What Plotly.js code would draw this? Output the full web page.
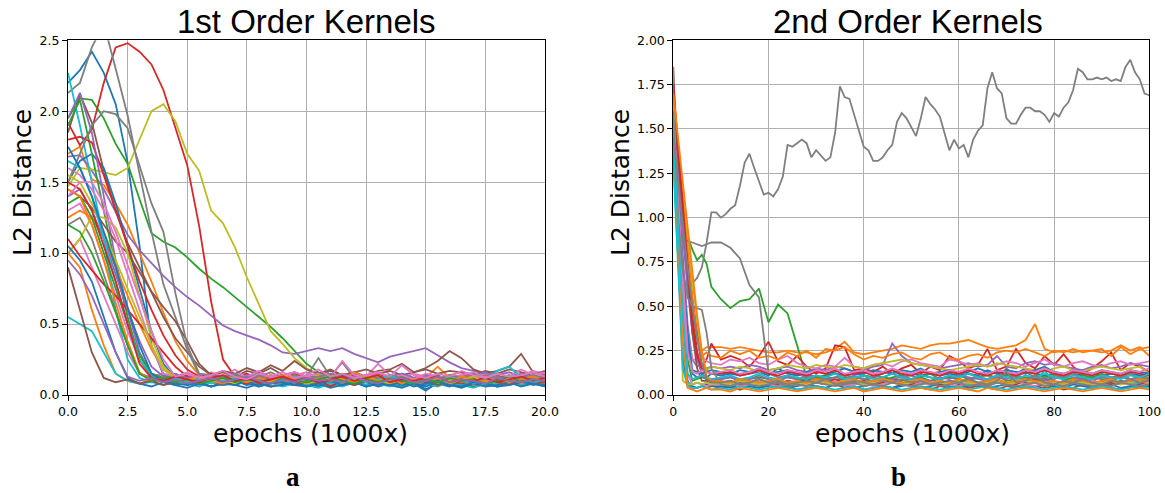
<!DOCTYPE html>
<html>
<head>
<meta charset="utf-8">
<script src="https://cdn.plot.ly/plotly-3.0.1.min.js"></script>
<style>html,body{margin:0;padding:0;background:#fff;}#chart{width:1165px;height:493px;}</style>
</head>
<body>
<div id="chart"></div>
<script>
// ---------- Left panel: 1st order kernels (epochs in 1000x, step 0.5) ----------
const LX = [0,0.5,1,1.5,2,2.5,3,3.5,4,4.5,5,5.5,6,6.5,7,7.5,8,8.5,9,9.5,10,10.5,11,11.5,12,12.5,13,13.5,14,14.5,15,15.5,16,16.5,17,17.5,18,18.5,19,19.5,20];

const L_blue = [2.20,2.29,2.42,2.27,2.05,1.64,1.05,0.35,0.14,0.10, 0.08,0.11,0.09,0.07,0.10,0.08,0.06,0.09,0.07,0.10, 0.08,0.06,0.09,0.07,0.08,0.10,0.07,0.09,0.06,0.08, 0.03,0.09,0.07,0.08,0.06,0.09,0.07,0.08,0.10,0.07, 0.09];
const L_orange = [1.70,1.75,1.52,1.48,1.35,1.20,1.00,0.80,0.58,0.38, 0.24,0.14,0.11,0.13,0.10,0.12,0.15,0.11,0.13,0.10, 0.12,0.14,0.11,0.13,0.10,0.12,0.15,0.11,0.13,0.10, 0.12,0.20,0.12,0.14,0.11,0.13,0.10,0.12,0.14,0.11, 0.13];
const L_green = [1.95,2.09,2.08,1.95,1.77,1.63,1.38,1.14,1.08,1.04, 0.97,0.89,0.82,0.76,0.69,0.62,0.55,0.48,0.40,0.31, 0.22,0.16,0.13,0.15,0.12,0.14,0.11,0.13,0.15,0.12, 0.14,0.11,0.13,0.12,0.14,0.16,0.12,0.13,0.11,0.14, 0.12];
const L_red = [1.92,1.76,1.87,2.20,2.45,2.48,2.42,2.33,2.15,1.88, 1.62,1.19,0.66,0.25,0.13,0.15,0.11,0.14,0.12,0.10, 0.13,0.12,0.09,0.11,0.13,0.10,0.12,0.14,0.11,0.09, 0.12,0.10,0.13,0.11,0.09,0.12,0.14,0.10,0.12,0.11, 0.13];
const L_purple = [1.68,1.69,1.58,1.45,1.29,1.13,1.02,0.93,0.84,0.76, 0.69,0.63,0.56,0.49,0.45,0.42,0.39,0.35,0.30,0.29, 0.31,0.33,0.31,0.33,0.29,0.26,0.23,0.27,0.29,0.31, 0.33,0.28,0.23,0.19,0.17,0.15,0.14,0.16,0.13,0.15, 0.14];
const L_brown = [1.85,2.12,1.92,1.58,1.30,1.07,0.90,0.72,0.55,0.40, 0.30,0.20,0.14,0.16,0.13,0.17,0.15,0.19,0.14,0.16, 0.13,0.15,0.18,0.14,0.16,0.13,0.17,0.18,0.22,0.16, 0.19,0.24,0.31,0.26,0.18,0.15,0.17,0.20,0.29,0.16, 0.14];
const L_pink = [1.30,1.35,1.20,0.95,0.70,0.45,0.25,0.13,0.15,0.12, 0.14,0.11,0.16,0.13,0.18,0.12,0.15,0.13,0.11,0.14, 0.16,0.12,0.14,0.11,0.15,0.13,0.22,0.14,0.12,0.15, 0.13,0.11,0.14,0.16,0.12,0.15,0.13,0.11,0.14,0.17, 0.15];
const L_grey = [2.13,2.20,2.45,2.62,2.30,1.97,1.56,1.15,0.78,0.55, 0.32,0.14,0.12,0.14,0.11,0.13,0.15,0.12,0.14,0.11, 0.13,0.26,0.13,0.23,0.12,0.14,0.12,0.10,0.13,0.11, 0.14,0.12,0.10,0.13,0.11,0.14,0.12,0.13,0.11,0.10, 0.12];
const L_olive = [1.47,1.60,1.59,1.57,1.55,1.60,1.80,2.00,2.05,1.93, 1.70,1.58,1.30,1.21,1.04,0.83,0.64,0.45,0.36,0.26, 0.19,0.13,0.10,0.12,0.09,0.11,0.08,0.10,0.12,0.09, 0.11,0.08,0.10,0.09,0.11,0.08,0.10,0.12,0.09,0.10, 0.08];
const L_cyan = [2.27,1.90,1.50,1.10,0.60,0.25,0.12,0.09,0.11,0.08, 0.10,0.07,0.09,0.11,0.08,0.10,0.07,0.09,0.08,0.10, 0.07,0.09,0.06,0.08,0.10,0.07,0.09,0.08,0.06,0.09, 0.07,0.10,0.08,0.06,0.09,0.07,0.08,0.10,0.07,0.09, 0.08];
const L_blue2 = [1.50,1.65,1.70,1.60,1.35,1.05,0.75,0.45,0.22,0.12, 0.07,0.09,0.06,0.08,0.10,0.07,0.09,0.06,0.08,0.07, 0.09,0.06,0.08,0.10,0.07,0.09,0.06,0.08,0.07,0.09, 0.04,0.08,0.06,0.09,0.07,0.08,0.06,0.09,0.07,0.08, 0.06];
const L_orange2 = [1.00,0.90,0.60,0.35,0.15,0.10,0.08,0.11,0.09,0.07, 0.10,0.08,0.11,0.09,0.07,0.10,0.08,0.06,0.09,0.11, 0.08,0.10,0.07,0.09,0.08,0.10,0.12,0.08,0.09,0.07, 0.10,0.08,0.11,0.09,0.07,0.08,0.10,0.09,0.07,0.10, 0.08];
const L_green2 = [1.90,2.08,1.70,1.30,0.90,0.55,0.25,0.13,0.10,0.12, 0.09,0.11,0.13,0.10,0.12,0.09,0.11,0.10,0.12,0.14, 0.10,0.12,0.09,0.11,0.13,0.10,0.12,0.09,0.11,0.10, 0.12,0.14,0.10,0.12,0.09,0.11,0.13,0.10,0.12,0.09, 0.11];
const L_red2 = [1.80,1.82,1.78,1.55,1.30,1.05,0.80,0.60,0.42,0.28, 0.18,0.13,0.15,0.11,0.14,0.12,0.10,0.13,0.11,0.15, 0.12,0.10,0.13,0.11,0.14,0.12,0.16,0.10,0.13,0.11, 0.14,0.12,0.10,0.13,0.15,0.11,0.12,0.14,0.10,0.13, 0.11];
const L_purple2 = [1.95,2.13,1.85,1.40,0.95,0.60,0.30,0.15,0.12,0.10, 0.13,0.11,0.09,0.12,0.10,0.14,0.11,0.09,0.12,0.10, 0.13,0.11,0.12,0.09,0.11,0.13,0.10,0.12,0.09,0.11, 0.12,0.10,0.13,0.11,0.09,0.12,0.10,0.11,0.13,0.10, 0.12];
const L_brown2 = [1.45,1.40,1.32,1.20,1.08,1.00,0.86,0.73,0.62,0.52, 0.38,0.22,0.14,0.17,0.15,0.19,0.16,0.21,0.17,0.24, 0.18,0.15,0.17,0.14,0.16,0.18,0.15,0.17,0.14,0.16, 0.18,0.15,0.17,0.16,0.14,0.17,0.15,0.18,0.16,0.14, 0.17];
const L_pink2 = [1.00,1.10,0.90,0.70,0.50,0.30,0.15,0.12,0.10,0.13, 0.11,0.09,0.12,0.10,0.08,0.11,0.13,0.10,0.12,0.09, 0.11,0.13,0.10,0.12,0.09,0.11,0.10,0.12,0.14,0.11, 0.09,0.12,0.10,0.11,0.13,0.10,0.12,0.09,0.11,0.10, 0.12];
const L_grey2 = [1.20,1.25,1.10,0.85,0.60,0.35,0.15,0.12,0.10,0.13, 0.11,0.14,0.10,0.12,0.15,0.11,0.13,0.10,0.12,0.14, 0.11,0.13,0.10,0.12,0.15,0.11,0.13,0.10,0.12,0.11, 0.13,0.10,0.12,0.14,0.11,0.13,0.10,0.12,0.11,0.13, 0.10];
const L_olive2 = [1.00,1.10,1.26,1.25,1.18,1.00,0.70,0.40,0.20,0.12, 0.10,0.12,0.09,0.11,0.13,0.10,0.12,0.09,0.11,0.10, 0.12,0.14,0.10,0.12,0.09,0.11,0.13,0.10,0.12,0.11, 0.09,0.12,0.10,0.13,0.11,0.09,0.12,0.10,0.11,0.13, 0.10];
const L_cyan2 = [0.55,0.50,0.45,0.30,0.15,0.10,0.08,0.09,0.07,0.10, 0.08,0.06,0.09,0.07,0.08,0.10,0.07,0.09,0.06,0.08, 0.07,0.05,0.08,0.06,0.09,0.07,0.08,0.06,0.09,0.07, 0.08,0.06,0.09,0.07,0.05,0.08,0.06,0.08,0.07,0.09, 0.07];
const L_blue3 = [1.05,0.95,0.80,0.55,0.30,0.12,0.08,0.06,0.09,0.07, 0.05,0.08,0.06,0.09,0.07,0.05,0.08,0.06,0.07,0.09, 0.06,0.08,0.05,0.07,0.09,0.06,0.08,0.07,0.05,0.08, 0.06,0.09,0.07,0.05,0.08,0.06,0.07,0.09,0.06,0.08, 0.07];
const L_orange3 = [1.25,1.30,1.25,1.10,0.90,0.70,0.50,0.32,0.18,0.12, 0.09,0.11,0.13,0.10,0.12,0.09,0.11,0.14,0.10,0.12, 0.09,0.11,0.13,0.10,0.16,0.12,0.09,0.11,0.10,0.12, 0.14,0.10,0.12,0.09,0.11,0.13,0.10,0.12,0.11,0.09, 0.12];
const L_green3 = [1.35,1.40,1.25,1.00,0.75,0.50,0.28,0.15,0.12,0.14, 0.11,0.13,0.10,0.12,0.14,0.11,0.09,0.12,0.10,0.13, 0.11,0.09,0.12,0.14,0.10,0.12,0.11,0.09,0.13,0.11, 0.10,0.12,0.14,0.11,0.09,0.12,0.10,0.13,0.11,0.12, 0.10];
const L_red3 = [1.10,0.98,0.88,0.78,0.70,0.60,0.50,0.40,0.30,0.20, 0.13,0.11,0.09,0.12,0.10,0.08,0.11,0.09,0.12,0.10, 0.08,0.11,0.06,0.10,0.12,0.09,0.11,0.08,0.10,0.12, 0.09,0.11,0.08,0.10,0.12,0.09,0.11,0.10,0.08,0.11, 0.09];
const L_purple3 = [1.40,1.45,1.30,1.10,0.85,0.60,0.38,0.20,0.13,0.15, 0.12,0.14,0.11,0.13,0.15,0.12,0.14,0.10,0.13,0.11, 0.14,0.12,0.15,0.13,0.11,0.14,0.12,0.13,0.15,0.12, 0.14,0.11,0.13,0.12,0.14,0.16,0.12,0.13,0.15,0.12, 0.14];
const L_brown3 = [0.90,0.60,0.30,0.12,0.09,0.11,0.08,0.10,0.07,0.09, 0.11,0.08,0.10,0.07,0.09,0.12,0.08,0.10,0.09,0.07, 0.10,0.08,0.11,0.09,0.07,0.10,0.08,0.09,0.11,0.08, 0.10,0.07,0.09,0.08,0.10,0.12,0.09,0.07,0.10,0.08, 0.09];
const L_pink3 = [1.60,1.55,1.45,1.30,1.10,0.85,0.60,0.35,0.15,0.13, 0.16,0.12,0.14,0.11,0.15,0.13,0.17,0.12,0.14,0.16, 0.13,0.15,0.12,0.24,0.14,0.13,0.16,0.12,0.14,0.11, 0.15,0.13,0.12,0.14,0.16,0.12,0.15,0.13,0.18,0.14, 0.16];
const L_grey3 = [1.50,1.70,1.90,2.00,1.98,1.88,1.62,1.35,1.15,0.72, 0.35,0.15,0.14,0.12,0.15,0.11,0.13,0.16,0.12,0.14, 0.11,0.13,0.15,0.12,0.10,0.13,0.11,0.14,0.12,0.10, 0.13,0.11,0.14,0.12,0.15,0.11,0.13,0.10,0.12,0.14, 0.11];
const L_cyan3 = [1.65,1.60,1.40,1.10,0.80,0.50,0.25,0.14,0.10,0.12, 0.09,0.11,0.08,0.10,0.12,0.09,0.11,0.08,0.10,0.13, 0.09,0.11,0.08,0.10,0.12,0.09,0.11,0.14,0.10,0.08, 0.11,0.09,0.12,0.10,0.08,0.11,0.17,0.20,0.12,0.09, 0.11];
const L_olive3 = [1.55,1.50,1.35,1.15,0.95,0.75,0.55,0.35,0.18,0.12, 0.10,0.13,0.09,0.11,0.08,0.12,0.10,0.09,0.13,0.11, 0.08,0.10,0.12,0.09,0.11,0.14,0.10,0.08,0.11,0.09, 0.12,0.10,0.08,0.11,0.13,0.09,0.10,0.12,0.08,0.11, 0.10];
const L_blue4 = [1.75,1.60,1.40,1.15,0.90,0.62,0.35,0.15,0.10,0.08, 0.07,0.09,0.06,0.08,0.07,0.10,0.06,0.08,0.09,0.07, 0.06,0.08,0.10,0.07,0.09,0.06,0.08,0.07,0.09,0.06, 0.08,0.10,0.07,0.06,0.09,0.08,0.06,0.07,0.09,0.08, 0.06];
const L_green4 = [1.20,1.15,1.00,0.80,0.58,0.35,0.15,0.10,0.12,0.09, 0.11,0.08,0.10,0.12,0.09,0.11,0.10,0.08,0.12,0.10, 0.09,0.11,0.13,0.10,0.08,0.11,0.09,0.12,0.10,0.08, 0.11,0.09,0.12,0.10,0.11,0.08,0.10,0.13,0.09,0.11, 0.10];
const L_red4 = [1.50,1.45,1.30,1.05,0.80,0.50,0.22,0.12,0.10,0.13, 0.11,0.09,0.12,0.14,0.10,0.12,0.09,0.11,0.13,0.10, 0.12,0.09,0.11,0.13,0.10,0.12,0.14,0.09,0.11,0.10, 0.12,0.13,0.09,0.11,0.10,0.12,0.09,0.11,0.13,0.10, 0.12];
const L_pink4 = [1.40,1.50,1.50,1.35,1.15,0.92,0.68,0.45,0.25,0.13, 0.15,0.12,0.14,0.17,0.13,0.11,0.15,0.13,0.16,0.12, 0.14,0.18,0.13,0.15,0.12,0.14,0.16,0.13,0.21,0.14, 0.12,0.15,0.13,0.17,0.14,0.12,0.15,0.13,0.14,0.16, 0.13];
const L_orange4 = [1.45,1.40,1.20,0.95,0.65,0.38,0.16,0.10,0.12,0.09, 0.11,0.13,0.10,0.08,0.11,0.09,0.12,0.10,0.14,0.11, 0.09,0.12,0.10,0.11,0.09,0.13,0.10,0.12,0.08,0.11, 0.10,0.12,0.09,0.13,0.11,0.10,0.12,0.09,0.11,0.13, 0.10];
const L_purple4 = [0.95,0.85,0.70,0.50,0.30,0.13,0.10,0.12,0.09,0.11, 0.08,0.10,0.12,0.09,0.11,0.13,0.10,0.08,0.11,0.09, 0.12,0.10,0.11,0.09,0.13,0.10,0.08,0.11,0.12,0.09, 0.10,0.13,0.09,0.11,0.10,0.08,0.12,0.10,0.09,0.11, 0.10];

// ---------- Right panel: 2nd order kernels ----------
const RX = [0,1,2,3,4,5,6,7,8,10,12,14,16,18,20,22,24,26,28,30,32,34,36,38,40,42,44,46,48,50,52,54,56,58,60,62,64,66,68,70,72,74,76,78,80,82,84,86,88,90,92,94,96,98,100];
const RX_FULL = [0,1,2,3,4,5,6,7,8,9,10,11,12,13,14,15,16,17,18,19,20,21,22,23,24,25,26,27,28,29,30,31,32,33,34,35,36,37,38,39,40,41,42,43,44,45,46,47,48,49,50,51,52,53,54,55,56,57,58,59,60,61,62,63,64,65,66,67,68,69,70,71,72,73,74,75,76,77,78,79,80,81,82,83,84,85,86,87,88,89,90,91,92,93,94,95,96,97,98,99,100];

const R_greyTall = [1.50,1.05,0.66,0.61,0.63,0.66,0.72,0.86,1.03,1.03,
 1.00,1.02,1.05,1.07,1.18,1.31,1.36,1.28,1.20,1.13,
 1.14,1.12,1.16,1.23,1.41,1.40,1.42,1.44,1.42,1.34,
 1.38,1.35,1.32,1.34,1.48,1.74,1.68,1.67,1.58,1.50,
 1.40,1.38,1.32,1.32,1.34,1.38,1.41,1.54,1.59,1.56,
 1.51,1.46,1.56,1.68,1.64,1.61,1.57,1.48,1.38,1.44,
 1.39,1.41,1.34,1.44,1.49,1.52,1.73,1.82,1.73,1.70,
 1.56,1.53,1.53,1.58,1.62,1.62,1.60,1.60,1.58,1.54,
 1.59,1.57,1.62,1.65,1.72,1.84,1.82,1.78,1.78,1.79,
 1.78,1.79,1.77,1.78,1.77,1.85,1.89,1.82,1.78,1.70,
 1.69];
const R_orangeA = [1.60,1.35,1.05,0.80,0.55,0.35,0.25,0.27,0.27, 0.27,0.26,0.27,0.26,0.25,0.24,0.24,0.25,0.24,0.24, 0.23,0.24,0.26,0.30,0.24,0.23,0.24,0.25,0.26,0.28, 0.27,0.26,0.28,0.29,0.29,0.30,0.31,0.29,0.27,0.26, 0.27,0.28,0.31,0.40,0.26,0.24,0.25,0.24,0.25,0.25, 0.24,0.25,0.28,0.25,0.27,0.22];
const R_orangeB = [1.60,1.35,1.10,0.82,0.55,0.32,0.22,0.24,0.22, 0.21,0.25,0.23,0.25,0.21,0.22,0.20,0.24,0.22,0.25, 0.21,0.26,0.25,0.27,0.23,0.20,0.22,0.21,0.23,0.24, 0.21,0.20,0.23,0.24,0.21,0.20,0.22,0.23,0.21,0.24, 0.25,0.24,0.26,0.24,0.22,0.25,0.24,0.26,0.24,0.25, 0.26,0.22,0.27,0.23,0.26,0.27];
const R_red = [1.60,1.35,1.05,0.80,0.54,0.35,0.16,0.20,0.29, 0.20,0.22,0.20,0.16,0.22,0.30,0.19,0.17,0.22,0.16, 0.12,0.15,0.28,0.27,0.14,0.15,0.13,0.16,0.12,0.15, 0.17,0.12,0.16,0.14,0.22,0.19,0.15,0.17,0.26,0.14, 0.16,0.26,0.18,0.15,0.22,0.17,0.23,0.16,0.12,0.15, 0.19,0.24,0.14,0.18,0.16,0.13];
const R_green = [1.70,1.10,0.97,0.89,0.82,0.76,0.79,0.74,0.61, 0.54,0.49,0.53,0.54,0.60,0.41,0.51,0.46,0.28,0.10, 0.09,0.11,0.08,0.10,0.09,0.11,0.10,0.08,0.10,0.11, 0.09,0.10,0.12,0.09,0.10,0.11,0.09,0.10,0.12,0.09, 0.11,0.10,0.09,0.11,0.10,0.12,0.10,0.09,0.11,0.10, 0.12,0.10,0.11,0.09,0.10,0.11];
const R_grey2 = [1.40,1.00,0.86,0.87,0.86,0.85,0.84,0.85,0.86, 0.86,0.83,0.77,0.62,0.55,0.12,0.10,0.11,0.09,0.10, 0.11,0.09,0.10,0.11,0.10,0.09,0.11,0.10,0.12,0.10, 0.09,0.11,0.10,0.09,0.11,0.10,0.12,0.10,0.11,0.09, 0.15,0.10,0.13,0.10,0.09,0.11,0.10,0.12,0.10,0.09, 0.11,0.10,0.10,0.12,0.09,0.10];
const R_grey3 = [1.60,1.00,0.70,0.55,0.50,0.49,0.48,0.35,0.15, 0.06,0.05,0.07,0.06,0.05,0.06,0.07,0.05,0.06,0.05, 0.07,0.06,0.05,0.06,0.07,0.05,0.06,0.05,0.07,0.06, 0.05,0.06,0.07,0.05,0.06,0.07,0.05,0.06,0.05,0.07, 0.06,0.05,0.06,0.07,0.05,0.06,0.05,0.07,0.06,0.05, 0.06,0.05,0.07,0.06,0.05,0.06];
const R_purple = [1.55,1.15,0.75,0.40,0.20,0.16,0.17,0.15,0.16, 0.15,0.16,0.15,0.17,0.16,0.14,0.15,0.16,0.14,0.13, 0.15,0.14,0.16,0.15,0.13,0.14,0.16,0.17,0.29,0.22, 0.18,0.17,0.16,0.15,0.16,0.17,0.18,0.16,0.17,0.22, 0.16,0.15,0.18,0.19,0.17,0.18,0.16,0.15,0.14,0.16, 0.17,0.15,0.16,0.18,0.17,0.16];
const R_pink = [1.50,1.10,0.70,0.35,0.20,0.20,0.22,0.19,0.18, 0.17,0.20,0.19,0.21,0.18,0.17,0.20,0.22,0.18,0.16, 0.15,0.17,0.16,0.21,0.16,0.15,0.17,0.18,0.16,0.19, 0.20,0.18,0.17,0.16,0.20,0.19,0.17,0.18,0.16,0.17, 0.19,0.18,0.16,0.18,0.20,0.17,0.16,0.18,0.19,0.17, 0.16,0.18,0.19,0.17,0.18,0.19];
const R_olive = [1.65,1.40,1.12,0.88,0.64,0.42,0.22,0.14,0.16, 0.15,0.14,0.16,0.15,0.13,0.14,0.15,0.17,0.16,0.15, 0.17,0.16,0.15,0.17,0.16,0.15,0.17,0.18,0.19,0.20, 0.18,0.17,0.16,0.15,0.14,0.15,0.16,0.17,0.16,0.18, 0.17,0.16,0.15,0.14,0.13,0.15,0.16,0.14,0.13,0.15, 0.16,0.15,0.14,0.15,0.16,0.12];
const R_blue = [1.45,1.05,0.65,0.30,0.12,0.10,0.11,0.10,0.12, 0.11,0.12,0.11,0.12,0.13,0.11,0.15,0.12,0.11,0.12, 0.10,0.11,0.12,0.11,0.12,0.11,0.10,0.12,0.14,0.11, 0.12,0.11,0.12,0.11,0.12,0.11,0.12,0.11,0.14,0.12, 0.11,0.12,0.15,0.12,0.11,0.12,0.11,0.12,0.11,0.12, 0.11,0.12,0.11,0.12,0.11,0.12];
const R_cyan = [1.40,0.85,0.30,0.07,0.06,0.07,0.06,0.07,0.08, 0.07,0.06,0.08,0.07,0.06,0.07,0.08,0.06,0.07,0.06, 0.08,0.07,0.06,0.07,0.08,0.07,0.06,0.08,0.07,0.06, 0.07,0.08,0.07,0.06,0.07,0.08,0.06,0.07,0.08,0.07, 0.06,0.07,0.08,0.07,0.14,0.07,0.06,0.07,0.08,0.07, 0.06,0.07,0.08,0.07,0.06,0.07];
const R_green2 = [1.60,1.15,0.65,0.20,0.08,0.09,0.10,0.09,0.08, 0.09,0.10,0.08,0.09,0.10,0.09,0.08,0.10,0.09,0.08, 0.10,0.09,0.08,0.09,0.10,0.09,0.08,0.10,0.09,0.08, 0.09,0.10,0.08,0.09,0.10,0.09,0.08,0.10,0.09,0.11, 0.08,0.09,0.10,0.09,0.08,0.10,0.09,0.08,0.09,0.10, 0.09,0.08,0.10,0.09,0.08,0.09];
const R_brown = [1.85,1.10,0.45,0.08,0.04,0.04,0.05,0.04,0.05, 0.04,0.05,0.03,0.05,0.04,0.06,0.04,0.05,0.03,0.04, 0.05,0.04,0.06,0.04,0.05,0.03,0.04,0.05,0.04,0.06, 0.05,0.04,0.03,0.05,0.04,0.06,0.04,0.05,0.04,0.03, 0.05,0.04,0.06,0.05,0.04,0.05,0.03,0.04,0.06,0.04, 0.05,0.04,0.03,0.05,0.04,0.05];
const R_red2 = [1.60,1.30,1.00,0.70,0.45,0.25,0.12,0.09,0.08, 0.07,0.08,0.06,0.07,0.09,0.07,0.06,0.08,0.07,0.06, 0.08,0.07,0.09,0.06,0.07,0.08,0.06,0.07,0.09,0.07, 0.06,0.08,0.07,0.06,0.08,0.07,0.09,0.07,0.06,0.08, 0.07,0.06,0.08,0.07,0.09,0.06,0.07,0.08,0.07,0.06, 0.08,0.07,0.06,0.08,0.07,0.06];
const R_orange3 = [1.50,0.90,0.30,0.04,0.03,0.02,0.03,0.04,0.03, 0.03,0.02,0.04,0.03,0.02,0.03,0.04,0.03,0.02,0.03, 0.04,0.03,0.02,0.03,0.04,0.02,0.03,0.04,0.03,0.02, 0.03,0.04,0.03,0.02,0.03,0.04,0.03,0.02,0.04,0.03, 0.02,0.03,0.04,0.03,0.02,0.03,0.04,0.03,0.02,0.03, 0.04,0.03,0.02,0.03,0.04,0.03];
const R_pink2 = [1.55,1.05,0.55,0.12,0.06,0.07,0.06,0.05,0.06, 0.06,0.07,0.05,0.06,0.08,0.06,0.05,0.07,0.06,0.05, 0.07,0.06,0.08,0.05,0.06,0.07,0.05,0.06,0.08,0.06, 0.05,0.07,0.06,0.08,0.06,0.05,0.07,0.06,0.05,0.07, 0.06,0.08,0.06,0.05,0.07,0.06,0.05,0.07,0.06,0.08, 0.06,0.05,0.07,0.06,0.05,0.07];
const R_blue2 = [1.35,0.75,0.20,0.05,0.05,0.04,0.05,0.06,0.05, 0.05,0.04,0.06,0.05,0.04,0.05,0.06,0.04,0.05,0.06, 0.05,0.04,0.06,0.05,0.04,0.05,0.06,0.05,0.04,0.05, 0.06,0.04,0.05,0.06,0.05,0.04,0.05,0.06,0.04,0.05, 0.06,0.05,0.04,0.05,0.06,0.05,0.04,0.06,0.05,0.04, 0.05,0.06,0.04,0.05,0.06,0.05];
const R_olive2 = [1.70,0.90,0.08,0.06,0.06,0.07,0.06,0.07,0.06, 0.07,0.06,0.08,0.07,0.06,0.07,0.08,0.06,0.07,0.06, 0.08,0.07,0.06,0.07,0.08,0.06,0.07,0.08,0.07,0.06, 0.07,0.08,0.06,0.07,0.06,0.08,0.07,0.06,0.07,0.08, 0.06,0.07,0.08,0.07,0.06,0.07,0.06,0.08,0.07,0.06, 0.07,0.08,0.06,0.07,0.08,0.07];
const R_purple2 = [1.55,1.25,0.90,0.60,0.35,0.20,0.12,0.09,0.09, 0.09,0.10,0.08,0.09,0.11,0.09,0.08,0.10,0.09,0.11, 0.09,0.08,0.10,0.09,0.11,0.09,0.10,0.08,0.09,0.10, 0.11,0.09,0.08,0.10,0.09,0.11,0.10,0.09,0.08,0.10, 0.09,0.11,0.09,0.10,0.08,0.09,0.11,0.10,0.09,0.08, 0.10,0.09,0.11,0.09,0.10,0.09];
const R_cyan2 = [1.30,0.70,0.15,0.05,0.04,0.04,0.05,0.04,0.03, 0.04,0.03,0.05,0.04,0.03,0.04,0.05,0.04,0.03,0.04, 0.05,0.04,0.03,0.04,0.05,0.03,0.04,0.05,0.04,0.03, 0.04,0.05,0.04,0.03,0.04,0.05,0.03,0.04,0.05,0.04, 0.03,0.04,0.05,0.04,0.03,0.04,0.05,0.04,0.03,0.04, 0.05,0.04,0.03,0.04,0.05,0.04];
const R_grey4 = [1.45,1.20,0.95,0.72,0.50,0.32,0.18,0.09,0.07, 0.07,0.08,0.06,0.07,0.09,0.07,0.08,0.06,0.07,0.08, 0.07,0.09,0.06,0.07,0.08,0.07,0.06,0.08,0.07,0.09, 0.07,0.08,0.06,0.07,0.08,0.07,0.09,0.07,0.06,0.08, 0.13,0.07,0.08,0.11,0.07,0.06,0.08,0.07,0.09,0.07, 0.06,0.08,0.07,0.09,0.07,0.08];
const R_orange4 = [1.70,1.45,1.20,0.95,0.70,0.45,0.25,0.10,0.08, 0.08,0.07,0.09,0.08,0.07,0.08,0.09,0.07,0.08,0.07, 0.09,0.08,0.07,0.08,0.09,0.07,0.08,0.09,0.08,0.07, 0.08,0.09,0.07,0.08,0.07,0.09,0.08,0.07,0.08,0.09, 0.07,0.08,0.09,0.08,0.07,0.08,0.07,0.09,0.08,0.07, 0.08,0.09,0.07,0.08,0.09,0.08];
const R_red3 = [1.75,1.40,1.05,0.70,0.40,0.22,0.15,0.13,0.12, 0.12,0.13,0.11,0.12,0.14,0.12,0.11,0.13,0.12,0.11, 0.13,0.12,0.14,0.11,0.12,0.13,0.11,0.12,0.14,0.12, 0.11,0.13,0.12,0.11,0.13,0.12,0.14,0.12,0.11,0.13, 0.12,0.11,0.13,0.12,0.14,0.12,0.11,0.13,0.12,0.11, 0.13,0.12,0.11,0.13,0.12,0.11];
const R_brown2 = [1.70,1.35,1.00,0.65,0.35,0.15,0.08,0.08,0.07, 0.07,0.08,0.06,0.07,0.08,0.07,0.06,0.08,0.07,0.09, 0.07,0.06,0.08,0.07,0.06,0.08,0.07,0.09,0.07,0.06, 0.08,0.07,0.06,0.08,0.07,0.09,0.07,0.06,0.08,0.07, 0.06,0.08,0.07,0.09,0.07,0.06,0.08,0.07,0.06,0.08, 0.07,0.06,0.08,0.07,0.09,0.07];
const R_blue3 = [1.50,1.10,0.70,0.35,0.14,0.13,0.12,0.13,0.14, 0.13,0.12,0.14,0.13,0.15,0.12,0.13,0.14,0.12,0.13, 0.14,0.12,0.13,0.15,0.13,0.12,0.14,0.13,0.12,0.14, 0.13,0.15,0.12,0.13,0.14,0.12,0.13,0.15,0.13,0.12, 0.14,0.13,0.12,0.14,0.16,0.13,0.12,0.14,0.13,0.12, 0.14,0.13,0.12,0.14,0.13,0.12];
const R_cyan3 = [1.45,0.95,0.45,0.12,0.09,0.10,0.11,0.10,0.09, 0.10,0.11,0.09,0.10,0.12,0.10,0.09,0.11,0.10,0.09, 0.11,0.10,0.12,0.09,0.10,0.11,0.09,0.10,0.12,0.10, 0.09,0.11,0.10,0.09,0.11,0.10,0.12,0.10,0.09,0.11, 0.10,0.09,0.11,0.10,0.12,0.10,0.09,0.11,0.10,0.09, 0.11,0.10,0.09,0.11,0.10,0.12];
const R_pink3 = [1.55,1.10,0.65,0.25,0.13,0.12,0.14,0.13,0.12, 0.13,0.14,0.12,0.13,0.15,0.13,0.12,0.14,0.13,0.12, 0.14,0.13,0.15,0.12,0.13,0.14,0.12,0.13,0.15,0.13, 0.12,0.14,0.13,0.12,0.14,0.13,0.15,0.13,0.12,0.14, 0.13,0.12,0.14,0.13,0.15,0.13,0.12,0.14,0.13,0.12, 0.14,0.13,0.12,0.14,0.13,0.15];

// ---------- styling ----------
const C = {blue:'#1f77b4', orange:'#ff7f0e', green:'#2ca02c', red:'#d62728', purple:'#9467bd',
           brown:'#8c564b', pink:'#e377c2', grey:'#7f7f7f', olive:'#bcbd22', cyan:'#17becf'};

const leftSeries = [
  ['blue',L_blue],['orange',L_orange],['green',L_green],['red',L_red],['purple',L_purple],
  ['brown',L_brown],['pink',L_pink],['grey',L_grey],['olive',L_olive],['cyan',L_cyan],
  ['blue',L_blue2],['orange',L_orange2],['green',L_green2],['red',L_red2],['purple',L_purple2],
  ['brown',L_brown2],['pink',L_pink2],['grey',L_grey2],['olive',L_olive2],['cyan',L_cyan2],
  ['blue',L_blue3],['orange',L_orange3],['green',L_green3],['red',L_red3],['purple',L_purple3],
  ['brown',L_brown3],['pink',L_pink3],['grey',L_grey3],['olive',L_olive3],['cyan',L_cyan3],
  ['blue',L_blue4],['orange',L_orange4],['green',L_green4],['red',L_red4],['purple',L_purple4],
  ['pink',L_pink4]
];
const rightSeries = [
  ['blue',RX,R_blue],['orange',RX,R_orangeA],['green',RX,R_green],['red',RX,R_red],['purple',RX,R_purple],
  ['brown',RX,R_brown],['pink',RX,R_pink],['grey',RX_FULL,R_greyTall],['olive',RX,R_olive],['cyan',RX,R_cyan],
  ['blue',RX,R_blue2],['orange',RX,R_orangeB],['green',RX,R_green2],['red',RX,R_red2],['purple',RX,R_purple2],
  ['brown',RX,R_brown2],['pink',RX,R_pink2],['grey',RX,R_grey2],['olive',RX,R_olive2],['cyan',RX,R_cyan2],
  ['blue',RX,R_blue3],['orange',RX,R_orange3],['red',RX,R_red3],['pink',RX,R_pink3],['grey',RX,R_grey3],
  ['cyan',RX,R_cyan3],['orange',RX,R_orange4],['grey',RX,R_grey4]
];

const LW = 1.8;
const traces = [];
leftSeries.forEach(([c, y]) => traces.push({x: LX, y: y, type:'scatter', mode:'lines',
  line:{color:C[c], width:LW}, xaxis:'x', yaxis:'y', hoverinfo:'skip'}));
rightSeries.forEach(([c, x, y]) => traces.push({x: x, y: y, type:'scatter', mode:'lines',
  line:{color:C[c], width:LW}, xaxis:'x2', yaxis:'y2', hoverinfo:'skip'}));

const W = 1165, H = 493;
const tickFont = {family:'DejaVu Sans', size:12.5, color:'#000'};
const axBase = {showline:true, linecolor:'#000', linewidth:1, mirror:true, ticks:'outside', ticklen:5,
  tickwidth:1, tickcolor:'#000', showgrid:true, gridcolor:'#b0b0b0', gridwidth:1, zeroline:false,
  tickfont:tickFont, fixedrange:true};
const yDom = [1 - 395/H, 1 - 40.3/H];

const ann = (text, px, py, size, family, extra) => Object.assign({
  text, x: px/W, y: 1 - py/H, xref:'paper', yref:'paper', xanchor:'center', yanchor:'middle',
  showarrow:false, font:{family, size, color:'#000'}}, extra || {});

const layout = {
  width: W, height: H, margin:{l:0, r:0, t:0, b:0},
  paper_bgcolor:'#fff', plot_bgcolor:'#fff', showlegend:false,
  xaxis: Object.assign({}, axBase, {domain:[68/W, 545/W], range:[0,20], tick0:0, dtick:2.5, tickformat:'.1f', anchor:'y'}),
  yaxis: Object.assign({}, axBase, {domain:yDom, range:[0,2.5], tick0:0, dtick:0.5, tickformat:'.1f', anchor:'x'}),
  xaxis2: Object.assign({}, axBase, {domain:[673.3/W, 1149.3/W], range:[0,100], tick0:0, dtick:20, anchor:'y2'}),
  yaxis2: Object.assign({}, axBase, {domain:yDom, range:[0,2], tick0:0, dtick:0.25, tickformat:'.2f', anchor:'x2'}),
  annotations: [
    ann('1st Order Kernels', 307, 22, 33, 'Liberation Sans, Arial, sans-serif'),
    ann('2nd Order Kernels', 908, 22, 33, 'Liberation Sans, Arial, sans-serif'),
    ann('epochs (1000x)', 310, 433, 25, 'DejaVu Sans'),
    ann('epochs (1000x)', 912, 433, 25, 'DejaVu Sans'),
    ann('L2 Distance', 22, 183, 25, 'DejaVu Sans', {textangle:-90}),
    ann('L2 Distance', 620, 183, 25, 'DejaVu Sans', {textangle:-90}),
    ann('<b>a</b>', 293, 477, 27, 'Liberation Serif, Times New Roman, serif'),
    ann('<b>b</b>', 898, 477, 27, 'Liberation Serif, Times New Roman, serif')
  ]
};

Plotly.newPlot('chart', traces, layout, {staticPlot:true, displayModeBar:false});
</script>
</body>
</html>
